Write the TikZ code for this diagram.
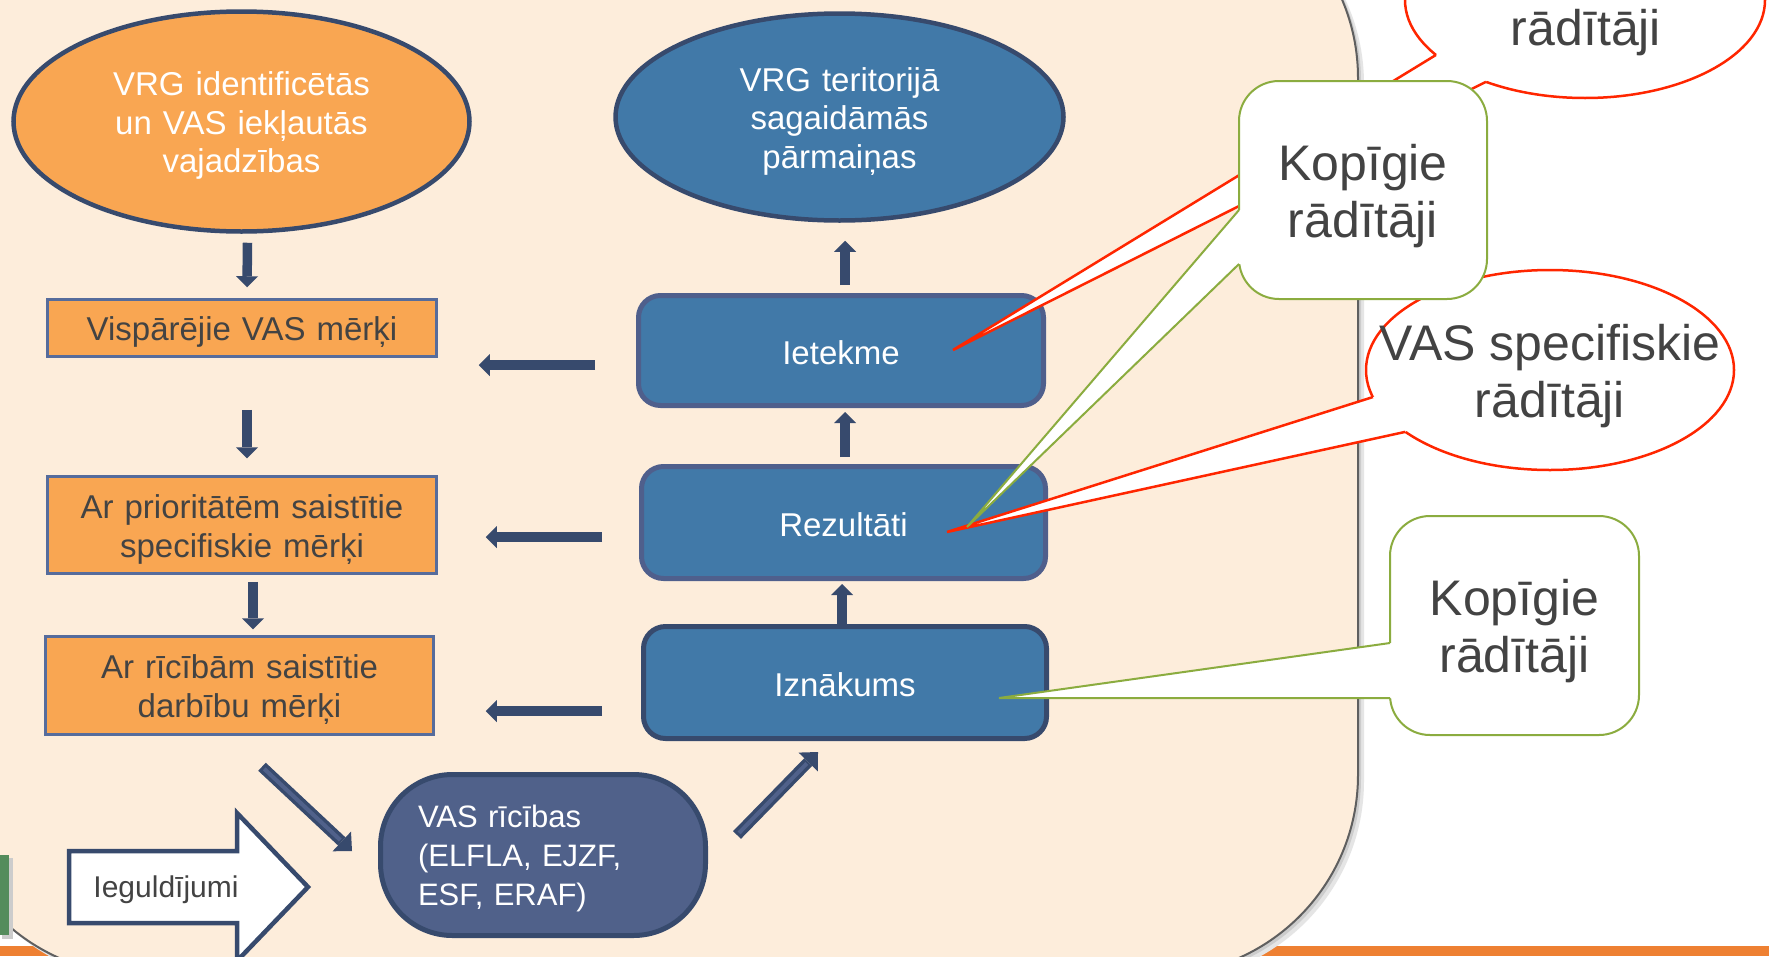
\documentclass[tikz,border=0pt]{standalone}
\usepackage{fontspec}
\setmainfont{Liberation Sans}
\usepackage{tikz}
\usetikzlibrary{shapes, positioning}
\usetikzlibrary{calc}
\usetikzlibrary{arrows.meta}

\definecolor{panelpeach}{RGB}{253,237,219}
\definecolor{panelline}{RGB}{95,95,95}
\definecolor{navy}{RGB}{55,74,109}
\definecolor{goalorange}{RGB}{249,166,82}
\definecolor{steelblue}{RGB}{65,121,168}
\definecolor{slateblue}{RGB}{80,97,138}
\definecolor{boxedge}{RGB}{86,108,156}
\definecolor{blueedge}{RGB}{79,95,140}
\definecolor{callred}{RGB}{255,38,0}
\definecolor{callgreen}{RGB}{139,172,63}
\definecolor{textgrey}{RGB}{67,67,67}
\definecolor{stripeorange}{RGB}{238,128,50}
\definecolor{leafgreen}{RGB}{84,140,92}

\newcommand{\fsz}[2]{\fontsize{#1}{#2}\selectfont}

\tikzset{
  goalellipse/.style={ellipse, draw=navy, line width=4.5pt, inner sep=0pt, text width=300pt, align=center, text=white, text height=32pt, font=\fsz{33}{38.5}},
  goalbox/.style={rectangle, draw=boxedge, line width=2.5pt, fill=goalorange, inner sep=0pt, text width=380pt, align=center, text=textgrey, text height=32pt, font=\fsz{33}{39}},
  resultbox/.style={rectangle, rounded corners=22pt, draw=blueedge, line width=5pt, fill=steelblue, inner sep=0pt, text=white, text height=28pt, font=\fsz{33}{39}},
  flowarrow/.style={navy, line width=9.5pt, -{Triangle[width=22pt 0 0, length=11pt 0 0, line width=0pt]}},
  diagarrow/.style={navy, line width=11pt, -{Triangle[width=27pt 0 0, length=14pt 0 0, line width=0pt]}},
  greencall/.style={rectangle, rounded corners=40pt, draw=callgreen, line width=2pt, fill=white, inner sep=0pt, outer sep=0pt, text width=240pt, align=center, text=textgrey, text height=47.5pt, font=\fsz{50}{57}},
  redcall/.style={ellipse, draw=callred, line width=2.5pt, fill=white, inner sep=0pt, outer sep=0pt},
  calltext/.style={align=center, text=textgrey, font=\fsz{50}{57}},
  redtail/.style={draw=callred, line width=2.5pt},
  greentail/.style={draw=callgreen, line width=2pt},
}

\begin{document}
\begin{tikzpicture}[x=1pt, y=-1pt]
  \useasboundingbox (0,0) rectangle (1769,956);
  \clip (0,0) rectangle (1769,956);
  \fill[white] (0,0) rectangle (1769,956);

  % Draw background strip and panel
  \fill[stripeorange] (0,946) rectangle (1769,956);
  \fill[gray!20, rounded corners=200pt] (-54,-116) rectangle (1364,981);
  \fill[gray!40, rounded corners=200pt] (-57,-119) rectangle (1361,978);
  \draw[fill=panelpeach, draw=panelline, line width=2pt, rounded corners=200pt] (-60,-122) rectangle (1358,975);
  \fill[gray!40] (2,858) rectangle (13,939);
  \fill[leafgreen] (0,855) rectangle (9,935);

  % Draw goal column
  \node[goalellipse, fill=goalorange, minimum width=456pt, minimum height=220pt] (needs) at (241.5,121.5) {VRG identificētās\\un VAS iekļautās\\vajadzības};
  \node[goalbox, minimum width=389pt, minimum height=57pt] (general) at (242,328) {Vispārējie VAS mērķi};
  \node[goalbox, minimum width=389pt, minimum height=97pt] (priority) at (242,525) {Ar prioritātēm saistītie\\specifiskie mērķi};
  \node[goalbox, minimum width=388pt, minimum height=98pt] (action) at (239.5,685.5) {Ar rīcībām saistītie\\darbību mērķi};

  % Draw result column
  \node[goalellipse, fill=steelblue, minimum width=448pt, minimum height=207pt] (change) at (839.5,117) {VRG teritorijā\\sagaidāmās\\pārmaiņas};
  \node[resultbox, minimum width=405pt, minimum height=110pt] (impact) at (841,350.5) {Ietekme};
  \node[resultbox, minimum width=404pt, minimum height=112pt] (results) at (843.5,522.5) {Rezultāti};
  \node[resultbox, draw=navy, minimum width=403pt, minimum height=112pt] (outputs) at (845,682.5) {Iznākums};

  \node[draw=navy, line width=5pt, fill=slateblue, rounded corners=72pt, minimum width=325pt, minimum height=161pt, text width=250pt, text height=29pt, align=left, inner sep=0pt, text=white, font=\fsz{31}{39}] (actions) at (543,855) {VAS rīcības\\(ELFLA, EJZF,\\ESF, ERAF)};

  % Draw arrows down the goals
  \draw[flowarrow] ($(needs.south)+(6,9)$) -- ($(general.north)+(5,-11)$);
  \draw[flowarrow] ($(general.south)+(5,52)$) -- ($(priority.north)+(5,-17)$);
  \draw[flowarrow] ($(priority.south)+(11,7)$) -- ($(action.north)+(13.5,-6)$);

  % Draw arrows up the results
  \draw[flowarrow] ($(outputs.north)+(-3,0)$) -- ($(results.south)+(-1.5,3)$);
  \draw[flowarrow] ($(results.north)+(1.5,-7)$) -- ($(impact.south)+(4,4)$);
  \draw[flowarrow] ($(impact.north)+(4,-8)$) -- ($(change.south)+(5.5,18)$);

  % Draw arrows from results to goals
  \draw[flowarrow] ($(impact.west)+(-41,14.5)$) -- ($(general.east)+(41,37)$);
  \draw[flowarrow] ($(results.west)+(-37,14.5)$) -- ($(priority.east)+(48,12)$);
  \draw[flowarrow] ($(outputs.west)+(-39,28.5)$) -- ($(action.east)+(51,25.5)$);

  % Draw diagonal arrows
  \draw[diagarrow] ($(action.south)+(22.5,31)$) -- ($(actions.west)+(-26,-4)$);
  \draw[slateblue, line width=4pt, shorten <=3pt, shorten >=16pt] ($(action.south)+(22.5,31)$) -- ($(actions.west)+(-26,-4)$);
  \draw[diagarrow] ($(actions.east)+(29,-20)$) -- ($(outputs.south)+(-27,11)$);
  \draw[slateblue, line width=4pt, shorten <=3pt, shorten >=16pt] ($(actions.east)+(29,-20)$) -- ($(outputs.south)+(-27,11)$);

  % Draw input arrow
  \draw[fill=white, draw=navy, line width=4.5pt] (69,851) -- (237,851) -- (237,813) -- (308,887) -- (237,961) -- (237,923) -- (69,923) -- cycle;
  \node[text=textgrey, font=\fsz{30}{36}] (invest) at (166,890) {Ieguldījumi};

  % Draw top callout
  \node[redcall, minimum width=360pt, minimum height=196pt] (topcall) at (1585,0) {};
  \node[calltext, anchor=base] (topcalltext) at (1586,45) {rādītāji};
  \coordinate (toptip) at ($(impact.center)+(112,-0.5)$);
  \fill[white] ($(topcall.center)+(145.9:175 and 93)$) -- ($(topcall.center)+(145.9:180 and 98)$) -- (toptip) -- ($(topcall.center)+(123.4:180 and 98)$) -- ($(topcall.center)+(123.4:175 and 93)$) -- cycle;
  \draw[redtail] ($(topcall.center)+(145.9:180 and 98)$) -- (toptip) -- ($(topcall.center)+(123.4:180 and 98)$);

  % Draw specific indicator callout
  \node[redcall, minimum width=368pt, minimum height=200pt] (vasind) at (1550,370) {};
  \node[calltext] (vasindtext) at (1550,376.5) {VAS specifiskie\\rādītāji};
  \coordinate (vastip) at ($(results.center)+(103.5,9.5)$);
  \fill[white] ($(vasind.center)+(164.3:179 and 95)$) -- ($(vasind.center)+(164.3:184 and 100)$) -- (vastip) -- ($(vasind.center)+(141.8:184 and 100)$) -- ($(vasind.center)+(141.8:179 and 95)$) -- cycle;
  \draw[redtail] ($(vasind.center)+(164.3:184 and 100)$) -- (vastip) -- ($(vasind.center)+(141.8:184 and 100)$);

  % Draw common indicator callouts
  \node[greencall, minimum width=248pt, minimum height=218pt] (commona) at (1363,190) {Kopīgie\\rādītāji};
  \coordinate (commonatip) at ($(results.center)+(123.5,4.5)$);
  \fill[white] ($(commona.west)+(5,20)$) -- ($(commona.west)+(0,20)$) -- (commonatip) -- ($(commona.west)+(0,74)$) -- ($(commona.west)+(5,74)$) -- cycle;
  \draw[greentail] ($(commona.west)+(0,20)$) -- (commonatip) -- ($(commona.west)+(0,74)$);

  \node[greencall, minimum width=249pt, minimum height=219pt] (commonb) at (1514.5,625.5) {Kopīgie\\rādītāji};
  \coordinate (commonbtip) at ($(outputs.center)+(154,15.5)$);
  \fill[white] ($(commonb.west)+(5,17.5)$) -- ($(commonb.west)+(0,17.5)$) -- (commonbtip) -- ($(commonb.west)+(0,72.5)$) -- ($(commonb.west)+(5,72.5)$) -- cycle;
  \draw[greentail] ($(commonb.west)+(0,17.5)$) -- (commonbtip) -- ($(commonb.west)+(0,72.5)$);
\end{tikzpicture}
\end{document}
